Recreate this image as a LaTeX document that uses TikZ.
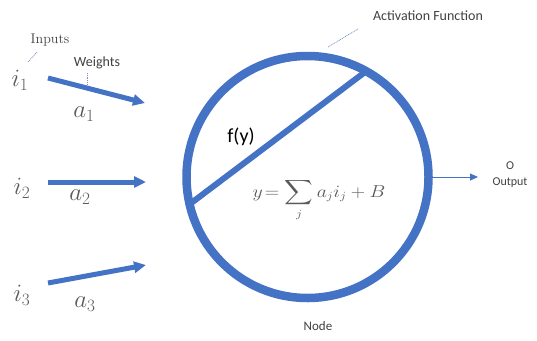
\documentclass[tikz,border=0pt]{standalone}
\usepackage{amsmath}
\usepackage{exscale}
\usepackage{fontspec}
\newfontfamily\labfont{Carlito}
\usetikzlibrary{arrows.meta}
\definecolor{nblue}{RGB}{68,114,196}
\definecolor{tgray}{RGB}{64,64,64}
\definecolor{mgray}{RGB}{90,90,90}
\definecolor{dotc}{RGB}{120,145,190}
\tikzset{
  lab/.style={font=\labfont\fontsize{14}{16}\selectfont, text=tgray, inner sep=0pt},
  mlab/.style={font=\fontsize{23}{26}\selectfont, text=mgray, inner sep=0pt},
  inarrow/.style={draw=nblue, line width=5pt, -{Triangle[length=12pt,width=11pt]}},
  callout/.style={draw=dotc, line width=0.7pt, dash pattern=on 1pt off 0.8pt},
  ring/.style={circle, draw=nblue, line width=8.5pt, minimum size=242pt, inner sep=0pt, outer sep=0pt}
}
\begin{document}
\begin{tikzpicture}[x=1pt,y=-1pt]
\useasboundingbox (0,0) rectangle (537,340);
% neuron ring
\node[ring] (neuron) at (307.5,177) {};
\draw[nblue, line width=6pt] (neuron.193) -- (neuron.61);
\node[font=\labfont\fontsize{20}{23}\selectfont, inner sep=0pt] (fy) at (241,137) {f(y)};
\node[text=mgray, inner sep=0pt, font=\fontsize{16}{19}\selectfont] (eq) at (319,200) {\scalebox{1.15}[1]{$\displaystyle y\!=\sum_j a_j i_j + B$}};
% labels
\node[font=\fontsize{14}{16}\selectfont, text=tgray, inner sep=0pt] (inputs) at (50,40) {Inputs};
\node[lab] (weights) at (97,63) {Weights};
\node[lab] (act) at (428,16) {Activation Function};
\node[lab, font=\labfont\fontsize{13}{15}\selectfont] (nodelab) at (318,326) {Node};
\node[lab, font=\labfont\fontsize{12}{14}\selectfont] (o) at (510,166) {O};
\node[lab, font=\labfont\fontsize{12}{14}\selectfont] (out) at (510,183) {Output};
% input labels
\node[mlab] (i1) at (20,80) {$i_1$};
\node[mlab] (i2) at (22,188) {$i_2$};
\node[mlab] (i3) at (22,295) {$i_3$};
\node[mlab] (w1) at (84,114) {$a_1$};
\node[mlab] (w2) at (80,197) {$a_2$};
\node[mlab] (w3) at (85,304) {$a_3$};
% arrow coordinates
\coordinate (s1) at (48,78);
\coordinate (e1) at (145,103);
\coordinate (s2) at (48,182);
\coordinate (e2) at (146,182);
\coordinate (s3) at (48,283);
\coordinate (e3) at (146,265);
\draw[inarrow] (s1) -- (e1);
\draw[inarrow] (s2) -- (e2);
\draw[inarrow] (s3) -- (e3);
% output
\coordinate (oend) at (478,177);
\draw[nblue, line width=1pt, -{Triangle[length=8pt,width=7pt]}] (neuron.east) -- (oend);
% callouts
\coordinate (c1a) at (28,62); \coordinate (c1b) at (37,52);
\coordinate (c2a) at (87,73); \coordinate (c2b) at (87,85);
\coordinate (c3a) at (328,47); \coordinate (c3b) at (358,29);
\draw[callout] (c1a) -- (c1b);
\draw[callout] (c2a) -- (c2b);
\draw[callout] (c3a) -- (c3b);
\end{tikzpicture}
\end{document}
